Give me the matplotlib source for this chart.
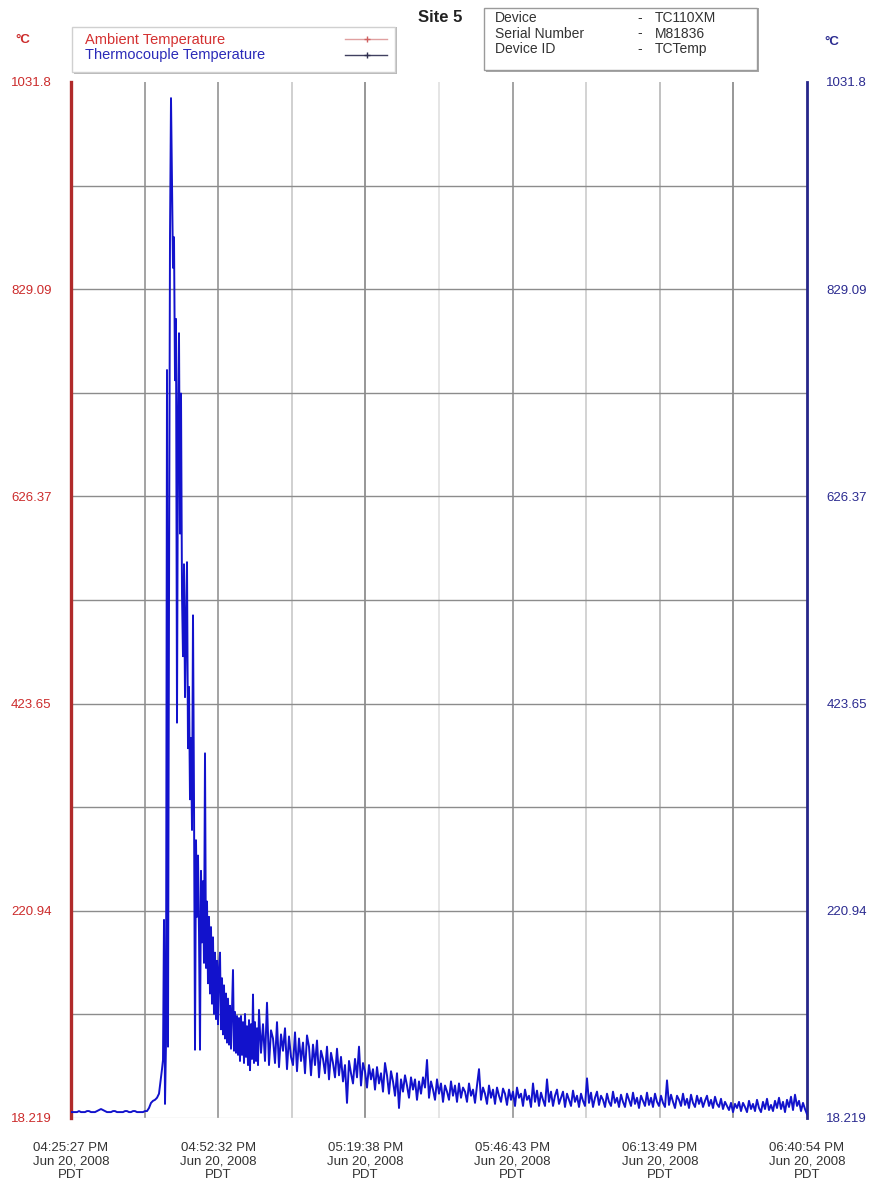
import numpy as np
import matplotlib
matplotlib.use('Agg')
import matplotlib.pyplot as plt
from matplotlib.lines import Line2D
from matplotlib.patches import Rectangle

plt.rcParams['font.family'] = ['Liberation Sans', 'DejaVu Sans']

# logger info
site_name = 'Site 5'
info_keys = ['Device', 'Serial Number', 'Device ID']
info_vals = ['TC110XM', 'M81836', 'TCTemp']
series_names = ['Ambient Temperature', 'Thermocouple Temperature']

# axis limits and labelled ticks
temp_min = 18.219
temp_max = 1031.8
temp_ticks = [18.219, 220.94, 423.65, 626.37, 829.09, 1031.8]
time_ticks = ['04:25:27 PM', '04:52:32 PM', '05:19:38 PM',
              '05:46:43 PM', '06:13:49 PM', '06:40:54 PM']
date_label = 'Jun 20, 2008'
tz_label = 'PDT'

# thermocouple readings (deg C)
# before the burn, normal logging interval
pre_temp = [
    24, 24, 24, 24, 25, 24, 24, 24, 25, 25,
    24, 24, 24, 25, 26, 27, 26, 25, 24, 24,
    24, 25, 25, 24, 24, 24, 24, 25, 25, 24,
    24, 25, 25, 24, 24, 24, 24, 25, 25,
    28, 33, 35, 36, 38, 42,
]
# burn and fast decay, logged at double rate
burn_temp = [
    50, 58, 66, 75, 212, 32, 92, 750, 88, 520,
    880, 1016, 933, 850, 880, 740, 800, 405, 700, 786,
    590, 727, 530, 470, 560, 430, 500, 562, 380, 440,
    330, 390, 300, 510, 330, 85, 290, 215, 275, 200,
    85, 260, 190, 250, 170, 375, 165, 230, 150, 215,
    140, 205, 130, 195, 120, 180, 115, 172, 110, 165,
    180, 105, 155, 100, 148, 96, 140, 92, 135, 90,
    128, 86, 124, 163, 84, 122, 82, 118, 80, 116,
    74, 118, 80, 112, 72, 120, 78, 108, 70, 114,
    65, 110, 76, 139, 72, 112, 74, 106, 70, 124,
]
# slow cool-down, normal logging interval
cool_temp = [
    82, 110, 74, 131, 70, 104, 96, 72, 112, 68, 100, 84, 106, 66, 98, 78, 70, 102, 64, 96,
    74, 92, 62, 99, 88, 60, 90, 70, 94, 58, 84, 76, 62, 88, 56, 82, 72, 58, 86, 60,
    78, 54, 70, 33, 74, 62, 52, 76, 58, 88, 50, 72, 64, 48, 70, 56, 66, 46, 68, 52,
    62, 44, 72, 60, 42, 64, 54, 40, 62, 28, 56, 44, 60, 50, 38, 58, 46, 56, 36, 54,
    42, 58, 48, 75, 38, 54, 46, 36, 56, 42, 52, 34, 50, 44, 36, 54, 40, 50, 34, 52,
    38, 48, 44, 34, 52, 40, 46, 33, 50, 66, 36, 48, 42, 32, 50, 38, 46, 32, 48, 40,
    34, 47, 42, 31, 46, 36, 44, 30, 48, 38, 42, 30, 46, 36, 40, 29, 52, 34, 45, 30,
    43, 36, 30, 56, 34, 44, 30, 40, 46, 32, 38, 44, 29, 42, 36, 30, 45, 34, 40, 29,
    42, 35, 30, 57, 33, 43, 29, 38, 44, 31, 40, 36, 29, 42, 34, 30, 44, 33, 38, 29,
    41, 34, 29, 42, 36, 30, 43, 32, 38, 28, 40, 35, 30, 43, 31, 38, 29, 42, 34, 30,
    40, 33, 29, 55, 31, 41, 34, 28, 40, 36, 30, 42, 31, 37, 28, 41, 33, 29, 40, 32,
    38, 29, 35, 40, 30, 36, 28, 39, 32, 29, 37, 27, 34, 30, 26, 33, 24, 32, 28, 34,
    25, 33, 29, 24, 35, 27, 32, 25, 36, 28, 24, 34, 27, 37, 26, 31, 25, 35, 28, 38,
    27, 34, 24, 36, 29, 39, 26, 41, 30, 35, 25, 33, 27, 22,
]


def to_seconds(label):
    hms, ampm = label.split()
    h, m, s = [int(v) for v in hms.split(':')]
    if ampm == 'PM' and h != 12:
        h += 12
    return h * 3600 + m * 60 + s


t0 = to_seconds(time_ticks[0])
tick_sec = [to_seconds(t) - t0 for t in time_ticks]
span = tick_sec[-1]

# sample times: normal interval, halved during the burn
n_slots = len(pre_temp) - 1 + len(burn_temp) / 2 + len(cool_temp)
step = span / n_slots
t_pre = np.arange(len(pre_temp)) * step
t_burn = t_pre[-1] + (np.arange(len(burn_temp)) + 1) * step / 2
t_cool = t_burn[-1] + (np.arange(len(cool_temp)) + 1) * step
times = np.concatenate([t_pre, t_burn, t_cool])
thermo_temp = pre_temp + burn_temp + cool_temp

W, H = 873, 1188
fig = plt.figure(figsize=(W / 100, H / 100), dpi=100)
fig.patch.set_facecolor('white')


def fx(px):
    return px / W


def fy(py):
    return 1 - py / H


ax = fig.add_axes([fx(71), fy(1118), fx(807) - fx(71), fy(82) - fy(1118)])
ax.set_xlim(0, span)
ax.set_ylim(temp_min, temp_max)

red = '#cc2b2b'
navy = '#2b2b90'
txt = '#333333'

# grid: labelled ticks plus halfway lines
vx = np.linspace(0, span, 11)[1:-1]
vcols = ['#8a8a8a', '#8a8a8a', '#c4c4c4', '#7a7a7a', '#dedede',
         '#8a8a8a', '#c8c8c8', '#b0b0b0', '#7a7a7a']
for x, c in zip(vx, vcols):
    ax.axvline(x, color=c, lw=1.1, zorder=1)
hy = np.linspace(temp_min, temp_max, 11)[1:-1]
for y in hy:
    ax.axhline(y, color='#8c8c8c', lw=1.0, zorder=1)
ax.axhline(temp_min, color='#dddddd', lw=1.0, zorder=1)

ax.plot(times, thermo_temp, color='#1212cc', lw=1.4, zorder=3)

for side in ['top', 'bottom']:
    ax.spines[side].set_visible(False)
ax.spines['left'].set_color('#b02a2a')
ax.spines['left'].set_linewidth(2.4)
ax.spines['right'].set_color('#26268a')
ax.spines['right'].set_linewidth(2.0)

ax.set_yticks(temp_ticks)
ax.set_yticklabels([f'{v:g}' for v in temp_ticks])
ax.tick_params(axis='y', length=0, pad=14, labelsize=9.5, labelcolor=red)

ax.set_xticks(tick_sec)
ax.set_xticklabels([f'{t}\n{date_label}\n{tz_label}' for t in time_ticks],
                   linespacing=1.2)
ax.tick_params(axis='x', length=0, pad=17, labelsize=9.5, labelcolor=txt)

ax2 = ax.twinx()
ax2.set_ylim(temp_min, temp_max)
ax2.set_yticks(temp_ticks)
ax2.set_yticklabels([f'{v:g}' for v in temp_ticks])
ax2.tick_params(axis='y', length=0, pad=14, labelsize=9.5, labelcolor=navy)
for side in ['top', 'bottom', 'left', 'right']:
    ax2.spines[side].set_visible(False)

# unit labels
fig.text(fx(23), fy(40), '°C', color=red, fontsize=9.5, fontweight='bold',
         ha='center', va='center')
fig.text(fx(832), fy(42), '°C', color=navy, fontsize=9.5, fontweight='bold',
         ha='center', va='center')

# legend box
fig.add_artist(Rectangle((fx(74), fy(74)), fx(397) - fx(74), fy(27) - fy(74),
                         transform=fig.transFigure, facecolor='#b8b8b8',
                         edgecolor='none', zorder=4))
fig.add_artist(Rectangle((fx(72), fy(72)), fx(395) - fx(72), fy(27) - fy(72),
                         transform=fig.transFigure, facecolor='white',
                         edgecolor='#d0d0d0', lw=1, zorder=5))
fig.text(fx(85), fy(40), series_names[0], color='#d43030', fontsize=10.5,
         va='center', zorder=6)
fig.text(fx(85), fy(55), series_names[1], color='#2a2ab8', fontsize=10.5,
         va='center', zorder=6)
fig.add_artist(Line2D([fx(345), fx(387)], [fy(39), fy(39)], color='#e0a0a0',
                      lw=1, transform=fig.transFigure, zorder=6))
fig.add_artist(Line2D([fx(367)], [fy(39)], color='#d06060', marker='+', ms=4,
                      lw=0, transform=fig.transFigure, zorder=6))
fig.add_artist(Line2D([fx(345), fx(387)], [fy(55), fy(55)], color='#404060',
                      lw=1, transform=fig.transFigure, zorder=6))
fig.add_artist(Line2D([fx(367)], [fy(55)], color='#303050', marker='+', ms=4,
                      lw=0, transform=fig.transFigure, zorder=6))

# title
fig.text(fx(440), fy(18), site_name, color='#222222', fontsize=12,
         fontweight='bold', ha='center', va='center')

# device info box
fig.add_artist(Rectangle((fx(486), fy(72)), fx(759) - fx(486), fy(8) - fy(72),
                         transform=fig.transFigure, facecolor='#a8a8a8',
                         edgecolor='none', zorder=4))
fig.add_artist(Rectangle((fx(484), fy(70)), fx(757) - fx(484), fy(8) - fy(70),
                         transform=fig.transFigure, facecolor='white',
                         edgecolor='#9a9a9a', lw=1, zorder=5))
for i, (k, v) in enumerate(zip(info_keys, info_vals)):
    yy = fy(18 + i * 15.5)
    fig.text(fx(495), yy, k, color=txt, fontsize=10, va='center', zorder=6)
    fig.text(fx(640), yy, '-', color=txt, fontsize=10, va='center',
             ha='center', zorder=6)
    fig.text(fx(655), yy, v, color=txt, fontsize=10, va='center', zorder=6)

fig.savefig('out.png', dpi=100)
